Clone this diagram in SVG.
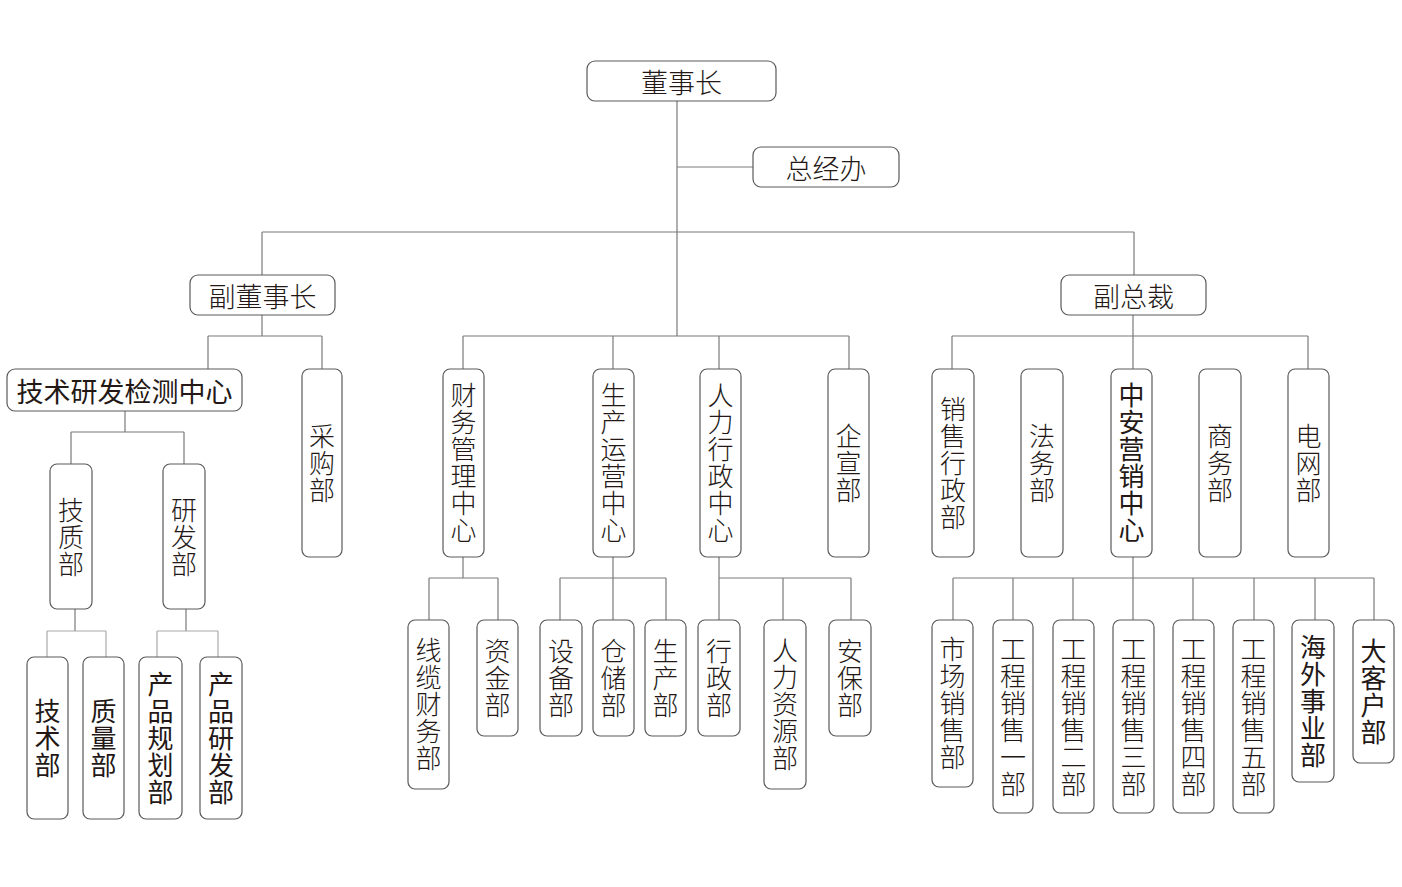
<svg xmlns="http://www.w3.org/2000/svg" width="1402" height="887" viewBox="0 0 1402 887">
<style>
.b{fill:#fff;stroke:#5a5a5a;stroke-width:1.2}
.t{font-family:"Noto Sans CJK SC","Noto Sans",sans-serif;font-size:27px;fill:#231815;font-weight:300;text-anchor:middle;dominant-baseline:central}
.v{font-size:26px;writing-mode:vertical-rl;letter-spacing:1px}
.k{font-weight:400}
.c path{fill:none;stroke:#7a7a7a;stroke-width:1.2}
</style>
<rect width="1402" height="887" fill="#fff"/>
<g class="c" id="connectors">
<path d="M677 101V336M677 167H753M262 232H1134M262 232V275M1134 232V275"/>
<path d="M463 336H849M463 336V369M613 336V369M719 336V369M849 336V369"/>
<path d="M262 315V336M208 336H322M208 336V369M322 336V369"/>
<path d="M125 411V432M71 432H184M71 432V464M184 432V464"/>
<path d="M75 609V631M186 609V631"/>
<path d="M47 631H106M47 631V657M106 631V657M157 631H218M157 631V657M218 631V657" style="stroke:#aaa"/>
<path d="M1133 315V369M952 336H1308M952 336V369M1308 336V369"/>
<path d="M1133 557V620M953 578H1374M953 578V620M1013 578V620M1073 578V620M1193 578V620M1254 578V620M1315 578V620M1374 578V620"/>
<path d="M463 557V578M429 578H498M429 578V620M498 578V620"/>
<path d="M613 557V620M560 578H666M560 578V620M666 578V620"/>
<path d="M719 557V620M719 578H851M783 578V620M851 578V620"/>
</g>
<g id="n-dongshizhang"><rect class="b" x="587" y="61" width="189" height="40" rx="8"/><text class="t" x="681.5" y="81">董事长</text></g>
<g id="n-zongjingban"><rect class="b" x="753" y="147" width="146" height="40" rx="8"/><text class="t" x="826" y="167">总经办</text></g>
<g id="n-fudongshizhang"><rect class="b" x="190" y="275" width="145" height="40" rx="8"/><text class="t" x="262.5" y="295">副董事长</text></g>
<g id="n-fuzongcai"><rect class="b" x="1061" y="275" width="145" height="40" rx="8"/><text class="t" x="1133.5" y="295">副总裁</text></g>
<g id="n-jishuyanfa"><rect class="b" x="7" y="369" width="235" height="42" rx="8"/><text class="t k" x="124.5" y="390">技术研发检测中心</text></g>

<g id="n-caigou"><rect class="b" x="302" y="369" width="40" height="188" rx="7"/><text class="t v" x="322" y="463.5">采购部</text></g>
<g id="n-caiwu"><rect class="b" x="443" y="369" width="41" height="188" rx="7"/><text class="t v" x="463.5" y="463.5">财务管理中心</text></g>
<g id="n-shengchan"><rect class="b" x="593" y="369" width="41" height="188" rx="7"/><text class="t v" x="613.5" y="463.5">生产运营中心</text></g>
<g id="n-renli"><rect class="b" x="700" y="369" width="41" height="188" rx="7"/><text class="t v" x="720.5" y="463.5">人力行政中心</text></g>
<g id="n-qixuan"><rect class="b" x="828" y="369" width="41" height="188" rx="7"/><text class="t v" x="848.5" y="463.5">企宣部</text></g>
<g id="n-xiaoshouxingzheng"><rect class="b" x="932" y="369" width="42" height="188" rx="7"/><text class="t v" x="953" y="463.5">销售行政部</text></g>
<g id="n-fawu"><rect class="b" x="1021" y="369" width="42" height="188" rx="7"/><text class="t v" x="1042" y="463.5">法务部</text></g>
<g id="n-zhongan"><rect class="b" x="1111" y="369" width="41" height="188" rx="7"/><text class="t v k" x="1131.5" y="463.5">中安营销中心</text></g>
<g id="n-shangwu"><rect class="b" x="1199" y="369" width="42" height="188" rx="7"/><text class="t v" x="1220" y="463.5">商务部</text></g>
<g id="n-dianwang"><rect class="b" x="1288" y="369" width="41" height="188" rx="7"/><text class="t v" x="1308.5" y="463.5">电网部</text></g>

<g id="n-jizhi"><rect class="b" x="50" y="464" width="42" height="145" rx="7"/><text class="t v" x="71" y="537.5">技质部</text></g>
<g id="n-yanfa"><rect class="b" x="163" y="464" width="42" height="145" rx="7"/><text class="t v" x="184" y="537.5">研发部</text></g>
<g id="n-jishu"><rect class="b" x="27" y="657" width="41" height="162" rx="7"/><text class="t v k" x="47.5" y="738.5">技术部</text></g>
<g id="n-zhiliang"><rect class="b" x="83" y="657" width="41" height="162" rx="7"/><text class="t v k" x="103.5" y="738.5">质量部</text></g>
<g id="n-chanpinguihua"><rect class="b" x="139" y="657" width="43" height="162" rx="7"/><text class="t v k" x="160.5" y="738.5">产品规划部</text></g>
<g id="n-chanpinyanfa"><rect class="b" x="200" y="657" width="42" height="162" rx="7"/><text class="t v k" x="221" y="738.5">产品研发部</text></g>

<g id="n-xianlan"><rect class="b" x="408" y="620" width="41" height="169" rx="7"/><text class="t v" x="428.5" y="705">线缆财务部</text></g>
<g id="n-zijin"><rect class="b" x="477" y="620" width="41" height="116" rx="7"/><text class="t v" x="497.5" y="678.5">资金部</text></g>
<g id="n-shebei"><rect class="b" x="540" y="620" width="42" height="116" rx="7"/><text class="t v" x="561" y="678.5">设备部</text></g>
<g id="n-cangchu"><rect class="b" x="593" y="620" width="41" height="116" rx="7"/><text class="t v" x="613.5" y="678.5">仓储部</text></g>
<g id="n-shengchanbu"><rect class="b" x="645" y="620" width="41" height="116" rx="7"/><text class="t v" x="665.5" y="678.5">生产部</text></g>
<g id="n-xingzheng"><rect class="b" x="698" y="620" width="42" height="116" rx="7"/><text class="t v" x="719" y="678.5">行政部</text></g>
<g id="n-renliziyuan"><rect class="b" x="764" y="620" width="42" height="169" rx="7"/><text class="t v" x="785" y="705">人力资源部</text></g>
<g id="n-anbao"><rect class="b" x="829" y="620" width="42" height="116" rx="7"/><text class="t v" x="850" y="678.5">安保部</text></g>

<g id="n-shichang"><rect class="b" x="932" y="620" width="41" height="167" rx="7"/><text class="t v" x="952.5" y="704">市场销售部</text></g>
<g id="n-gc1"><rect class="b" x="993" y="620" width="40" height="193" rx="7"/><text class="t v" x="1013" y="717">工程销售一部</text></g>
<g id="n-gc2"><rect class="b" x="1053" y="620" width="41" height="193" rx="7"/><text class="t v" x="1073.5" y="717">工程销售二部</text></g>
<g id="n-gc3"><rect class="b" x="1113" y="620" width="41" height="193" rx="7"/><text class="t v" x="1133.5" y="717">工程销售三部</text></g>
<g id="n-gc4"><rect class="b" x="1173" y="620" width="41" height="193" rx="7"/><text class="t v" x="1193.5" y="717">工程销售四部</text></g>
<g id="n-gc5"><rect class="b" x="1233" y="620" width="41" height="193" rx="7"/><text class="t v" x="1253.5" y="717">工程销售五部</text></g>
<g id="n-haiwai"><rect class="b" x="1292" y="620" width="42" height="162" rx="7"/><text class="t v k" x="1313" y="701.5">海外事业部</text></g>
<g id="n-dakehu"><rect class="b" x="1353" y="620" width="41" height="143" rx="7"/><text class="t v k" x="1373.5" y="692">大客户部</text></g>
</svg>
